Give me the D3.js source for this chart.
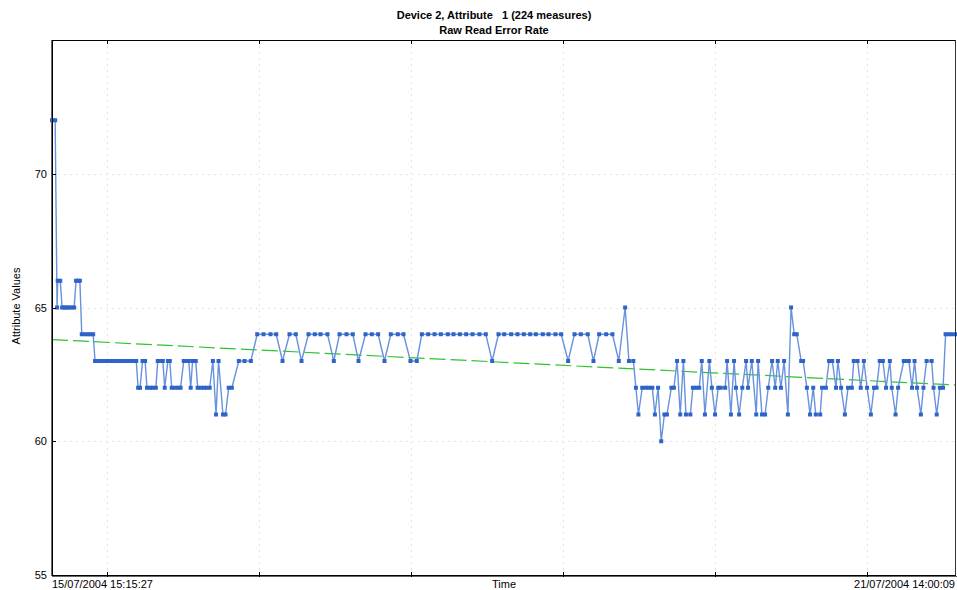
<!DOCTYPE html>
<html>
<head>
<meta charset="utf-8">
<script src="https://d3js.org/d3.v7.min.js"></script>
<title>Raw Read Error Rate</title>
<style>
  body { margin: 0; background: #fff; }
  text { font-family: "Liberation Sans", Arial, sans-serif; font-size: 11px; fill: #000; white-space: pre; }
</style>
</head>
<body>
<div id="chart"></div>
<script>

// title / labels
var titleLines = ["Device 2, Attribute   1 (224 measures)", "Raw Read Error Rate"];
var yLabel = "Attribute Values";
var xLabel = "Time";
var startLabel = "15/07/2004 15:15:27";
var endLabel = "21/07/2004 14:00:09";

var startTime = new Date(2004, 6, 15, 15, 15, 27);
var endTime = new Date(2004, 6, 21, 14, 0, 9);

var yTicks = [55, 60, 65, 70];

// measures: hours since first sample, and the attribute value
var sampleHours = [
  0, 0.5, 0.8, 0.9, 1.3, 1.6, 1.9, 2.2, 2.5, 2.8, 3.2, 3.5, 3.8, 4.1, 4.4, 4.7, 5.2, 5.7, 6.1, 6.5,
  6.8, 7.3, 7.9, 8.4, 9.0, 9.5, 10.1, 10.6, 11.2, 11.7, 12.3, 12.8, 13.3,
  13.6, 13.9, 14.3, 14.7, 15.0, 15.5, 15.9, 16.4, 16.7, 17.2, 17.5, 17.8, 18.3, 18.6, 18.9, 19.4, 19.9, 20.3,
  20.8, 21.3, 21.6, 21.9, 22.2, 22.7, 23.0, 23.5, 24.0, 24.4, 24.9, 25.4, 25.9, 26.3, 27.0, 27.4, 27.9, 28.4,
  29.5, 30.4, 31.4,
  32.4, 33.4, 34.5, 35.4, 36.4, 37.5, 38.5, 39.4, 40.5, 41.5, 42.4, 43.5, 44.5, 45.4, 46.5, 47.5, 48.4,
  49.5, 50.5, 51.5, 52.5, 53.5, 54.6, 55.5, 56.6, 57.6, 58.4, 59.4, 60.4, 61.4, 62.5, 63.4, 64.4, 65.4,
  66.4, 67.5, 68.5, 69.5, 70.5, 71.4, 72.5, 73.5, 74.5, 75.5, 76.4, 77.5, 78.4, 79.5, 80.4, 81.5, 82.5,
  83.5, 84.6, 85.5, 86.4, 87.5, 88.5, 89.5, 90.5, 91.1, 91.8,
  92.2, 92.6, 93.2, 93.8, 94.3, 94.8, 95.2, 95.7, 96.2, 96.7, 97.1, 97.8, 98.2, 98.7, 99.2, 99.7, 100.1,
  100.8, 101.2, 101.7, 102.2, 102.6, 103.1, 103.8, 104.2, 104.7, 105.2, 105.6, 106.3, 106.6, 107.2, 107.7,
  108.0, 108.5, 109.0, 109.6, 109.9, 110.5, 111.2, 111.5, 112.1, 112.6, 113.1, 113.7, 114.2, 114.6, 115.1,
  115.6, 116.2, 116.7,
  117.2, 117.6, 118.3, 118.6, 119.2, 119.7, 120.2, 120.6, 121.3, 121.6, 122.2, 122.7, 123.2, 123.8, 124.1,
  124.6, 125.2, 125.7, 126.3, 126.6, 127.2, 127.7, 128.2, 128.7, 129.3, 129.8, 130.2, 130.7, 131.2, 131.7,
  132.3, 132.6, 133.2, 133.6, 134.5, 135.0, 135.3, 135.8, 136.2, 136.6, 137.2, 137.6, 138.1, 138.9, 139.2,
  139.7, 140.2, 140.7, 141.1, 141.6, 142.1, 142.7
];
var sampleValues = [
  72, 72, 65, 66, 66, 65, 65, 65, 65, 65, 65, 65, 66, 66, 66, 64, 64, 64, 64, 64,
  63, 63, 63, 63, 63, 63, 63, 63, 63, 63, 63, 63, 63,
  62, 62, 63, 63, 62, 62, 62, 62, 63, 63, 63, 62, 63, 63, 62, 62, 62, 62,
  63, 63, 63, 62, 63, 63, 62, 62, 62, 62, 62, 63, 61, 63, 61, 61, 62, 62,
  63, 63, 63,
  64, 64, 64, 64, 63, 64, 64, 63, 64, 64, 64, 64, 63, 64, 64, 64, 63,
  64, 64, 64, 63, 64, 64, 64, 63, 63, 64, 64, 64, 64, 64, 64, 64, 64,
  64, 64, 64, 63, 64, 64, 64, 64, 64, 64, 64, 64, 64, 64, 64, 63, 64,
  64, 64, 63, 64, 64, 64, 63, 65, 63, 63,
  62, 61, 62, 62, 62, 62, 61, 62, 60, 61, 61, 62, 62, 63, 61, 63, 61,
  61, 62, 62, 62, 63, 61, 63, 62, 61, 62, 62, 62, 63, 61, 63,
  62, 61, 62, 63, 62, 63, 61, 63, 61, 61, 62, 63, 62, 63, 62,
  63, 61, 65,
  64, 64, 63, 63, 62, 61, 62, 61, 61, 62, 62, 63, 63, 62, 63,
  62, 61, 62, 62, 63, 63, 62, 63, 62, 61, 62, 62, 63, 63, 62,
  63, 62, 61, 62, 63, 63, 63, 62, 63, 62, 61, 62, 63, 63, 62,
  61, 62, 62, 64, 64, 64, 64
];

// trend line values at first and last sample
var trendValues = [63.8, 62.1];

var width = 957, height = 590;
var margin = {top: 40, right: 1, bottom: 15, left: 52};

var svg = d3.select("#chart").append("svg")
  .attr("width", width)
  .attr("height", height);

var x = d3.scaleTime()
  .domain([startTime, endTime])
  .range([margin.left, width - margin.right]);

var y = d3.scaleLinear()
  .domain([55, 75])
  .range([height - margin.bottom, margin.top]);

var data = sampleHours.map(function (h, i) {
  return {t: new Date(startTime.getTime() + h * 3600000), v: sampleValues[i]};
});

var dayTicks = d3.timeDay.range(d3.timeDay.ceil(startTime), endTime);

// grid
var grid = svg.append("g").attr("stroke", "#ece8cf").attr("stroke-dasharray", "2,4");
grid.selectAll(".vg").data(dayTicks).enter().append("line")
  .attr("x1", function (d) { return Math.round(x(d)) + 0.5; })
  .attr("x2", function (d) { return Math.round(x(d)) + 0.5; })
  .attr("y1", margin.top).attr("y2", height - margin.bottom);
grid.selectAll(".hg").data(yTicks.slice(1)).enter().append("line")
  .attr("x1", margin.left).attr("x2", width - margin.right)
  .attr("y1", function (d) { return Math.round(y(d)) + 0.5; })
  .attr("y2", function (d) { return Math.round(y(d)) + 0.5; });

// trend line
svg.append("line")
  .attr("x1", x(startTime)).attr("x2", x(endTime))
  .attr("y1", y(trendValues[0])).attr("y2", y(trendValues[1]))
  .attr("stroke", "#2ec42e")
  .attr("stroke-width", 1.2)
  .attr("stroke-dasharray", "16,5");

// series
var line = d3.line()
  .x(function (d) { return x(d.t); })
  .y(function (d) { return y(d.v); });

svg.append("path")
  .datum(data)
  .attr("fill", "none")
  .attr("stroke", "#6892dc")
  .attr("stroke-width", 1.4)
  .attr("d", line);

svg.selectAll(".pt").data(data).enter().append("rect")
  .attr("x", function (d) { return x(d.t) - 2; })
  .attr("y", function (d) { return y(d.v) - 2; })
  .attr("width", 4).attr("height", 4)
  .attr("fill", "#2e64c8");

// frame
var frame = svg.append("g").attr("fill", "none");
frame.append("rect")
  .attr("x", margin.left + 0.5).attr("y", margin.top + 0.5)
  .attr("width", width - margin.right - margin.left - 1)
  .attr("height", height - margin.bottom - margin.top)
  .attr("stroke", "#000");
frame.append("line")
  .attr("x1", margin.left - 0.5).attr("x2", margin.left - 0.5)
  .attr("y1", margin.top).attr("y2", height - margin.bottom + 1)
  .attr("stroke", "#666");
frame.append("line")
  .attr("x1", margin.left).attr("x2", width)
  .attr("y1", height - margin.bottom + 1.5).attr("y2", height - margin.bottom + 1.5)
  .attr("stroke", "#666");
frame.append("line")
  .attr("x1", width - 1.5).attr("x2", width - 1.5)
  .attr("y1", margin.top).attr("y2", height - margin.bottom)
  .attr("stroke", "#333");

// day ticks top and bottom
frame.selectAll(".tt").data(dayTicks).enter().append("line")
  .attr("x1", function (d) { return Math.round(x(d)) + 0.5; })
  .attr("x2", function (d) { return Math.round(x(d)) + 0.5; })
  .attr("y1", margin.top).attr("y2", margin.top + 4)
  .attr("stroke", "#000");
frame.selectAll(".bt").data(dayTicks).enter().append("line")
  .attr("x1", function (d) { return Math.round(x(d)) + 0.5; })
  .attr("x2", function (d) { return Math.round(x(d)) + 0.5; })
  .attr("y1", height - margin.bottom - 3).attr("y2", height - margin.bottom + 2)
  .attr("stroke", "#000");

// y ticks
frame.selectAll(".yt").data(yTicks).enter().append("line")
  .attr("x1", margin.left).attr("x2", margin.left + 4)
  .attr("y1", function (d) { return Math.round(y(d)) + 0.5; })
  .attr("y2", function (d) { return Math.round(y(d)) + 0.5; })
  .attr("stroke", "#000");

svg.selectAll(".yl").data(yTicks).enter().append("text")
  .attr("x", margin.left - 5)
  .attr("y", function (d) { return y(d) + 4; })
  .attr("text-anchor", "end")
  .text(function (d) { return d; });

// labels
svg.selectAll(".title").data(titleLines).enter().append("text")
  .attr("x", 494)
  .attr("y", function (d, i) { return 19 + i * 15; })
  .attr("text-anchor", "middle")
  .style("font-weight", "bold")
  .text(function (d) { return d; });

svg.append("text")
  .attr("transform", "translate(20," + 306 + ") rotate(-90)")
  .attr("text-anchor", "middle")
  .text(yLabel);

svg.append("text")
  .attr("x", margin.left).attr("y", 588)
  .text(startLabel);
svg.append("text")
  .attr("x", 504).attr("y", 588)
  .attr("text-anchor", "middle")
  .text(xLabel);
svg.append("text")
  .attr("x", width - 2).attr("y", 588)
  .attr("text-anchor", "end")
  .text(endLabel);

</script>
</body>
</html>
